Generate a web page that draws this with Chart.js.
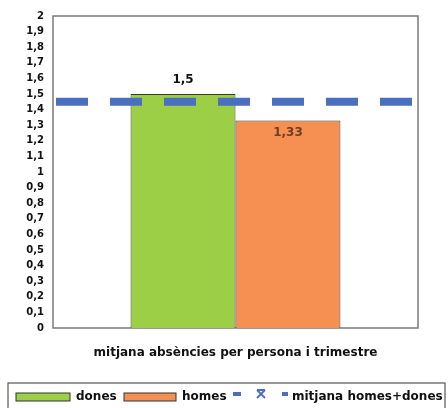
<!DOCTYPE html>
<html>
<head>
<meta charset="utf-8">
<script src="https://cdn.jsdelivr.net/npm/chart.js@4.4.1/dist/chart.umd.min.js"></script>
<style>
  html, body { margin: 0; padding: 0; background: #fff; }
  #wrap { width: 448px; height: 408px; position: relative; }
</style>
</head>
<body>
<div id="wrap"><canvas id="c" width="448" height="408"></canvas></div>
<script>
// Absence averages per person and quarter
const categories = ['mitjana absències per persona i trimestre'];
const dones = [1.5];
const homes = [1.33];
const mitjana = 1.45; // average line, men + women
const seriesNames = ['dones', 'homes', 'mitjana homes+dones'];
const yTicks = [0, 0.1, 0.2, 0.3, 0.4, 0.5, 0.6, 0.7, 0.8, 0.9, 1, 1.1, 1.2, 1.3, 1.4, 1.5, 1.6, 1.7, 1.8, 1.9, 2];

const FONT = '"DejaVu Sans", sans-serif';
const GREEN = '#9ccf45';
const ORANGE = '#f68f52';
const BLUE = '#4a6fc0';

// decimal comma, no trailing zeros
const fmt = v => String(Math.round(v * 100) / 100).replace('.', ',');

// one category slot spans the whole x range [0, 1]; bars sit at the slot centre
const slotCentre = i => (i + 0.5) / categories.length;
const barPoints = arr => arr.map((v, i) => ({ x: slotCentre(i), y: v }));

// frame around the plot area
const framePlugin = {
  id: 'frame',
  beforeDatasetsDraw(chart) {
    const a = chart.chartArea, ctx = chart.ctx;
    ctx.save();
    ctx.strokeStyle = '#7a7a7a';
    ctx.lineWidth = 1.5;
    ctx.strokeRect(a.left, a.top, a.right - a.left, a.bottom - a.top);
    ctx.restore();
  }
};

// value labels on the bars
const valueLabels = {
  id: 'valueLabels',
  afterDatasetsDraw(chart) {
    const ctx = chart.ctx;
    ctx.save();
    ctx.font = 'bold 12px ' + FONT;
    ctx.textAlign = 'center';
    ctx.textBaseline = 'middle';
    [0, 1].forEach(di => {
      const meta = chart.getDatasetMeta(di);
      meta.data.forEach((bar, i) => {
        const v = chart.data.datasets[di].data[i].y;
        if (di === 0) {
          ctx.fillStyle = '#111';
          ctx.fillText(fmt(v), bar.x, bar.y - 14);
        } else {
          ctx.fillStyle = '#6a4128';
          ctx.fillText(fmt(v), bar.x, bar.y + 12);
        }
      });
    });
    ctx.restore();
  }
};

// boxed legend along the bottom edge
const boxLegend = {
  id: 'boxLegend',
  afterDraw(chart) {
    const ctx = chart.ctx;
    const ds = chart.data.datasets;
    const top = 383, cy = 397;
    ctx.save();
    ctx.strokeStyle = '#555';
    ctx.lineWidth = 1.2;
    ctx.strokeRect(8, top, 437, 40);
    ctx.font = 'bold 12px ' + FONT;
    ctx.textBaseline = 'middle';
    ctx.textAlign = 'left';
    // bar swatches
    const sw = [[16, 54, 0], [124, 52, 1]];
    sw.forEach(([x, w, di]) => {
      ctx.fillStyle = ds[di].backgroundColor;
      ctx.strokeStyle = '#333';
      ctx.lineWidth = 1;
      ctx.fillRect(x, cy - 4, w, 8);
      ctx.strokeRect(x, cy - 4, w, 8);
      ctx.fillStyle = '#111';
      ctx.fillText(ds[di].label, x + w + 6, cy);
    });
    // line swatch: dash, marker, dash
    const lc = ds[2].borderColor;
    ctx.fillStyle = lc;
    ctx.fillRect(233, cy - 5, 8, 4);
    ctx.fillRect(282, cy - 5, 6, 4);
    ctx.strokeStyle = lc;
    ctx.lineWidth = 1.8;
    const mx = 261, my = cy - 3, r = 4;
    ctx.beginPath();
    ctx.moveTo(mx - r, my - r); ctx.lineTo(mx + r, my + r);
    ctx.moveTo(mx + r, my - r); ctx.lineTo(mx - r, my + r);
    ctx.moveTo(mx - r, my - r); ctx.lineTo(mx + r, my - r);
    ctx.stroke();
    ctx.fillStyle = '#111';
    ctx.fillText(ds[2].label, 292, cy);
    ctx.restore();
  }
};

new Chart(document.getElementById('c'), {
  type: 'bar',
  data: {
    datasets: [
      { type: 'bar', label: seriesNames[0], data: barPoints(dones), backgroundColor: GREEN, borderColor: '#3a3a2a', borderWidth: 1, order: 2 },
      { type: 'bar', label: seriesNames[1], data: barPoints(homes), backgroundColor: ORANGE, borderColor: '#3a3a2a', borderWidth: 1, order: 2 },
      { type: 'line', label: seriesNames[2], data: [{ x: 0.0082, y: mitjana }, { x: 0.9836, y: mitjana }],
        borderColor: BLUE, borderWidth: 8, borderDash: [32, 22], borderCapStyle: 'butt',
        pointRadius: 0, fill: false, order: 1 }
    ]
  },
  options: {
    responsive: false,
    animation: false,
    devicePixelRatio: 1,
    layout: { padding: { top: 16, right: 30, bottom: 43, left: 0 } },
    plugins: { legend: { display: false }, tooltip: { enabled: false } },
    datasets: { bar: { categoryPercentage: 0.575, barPercentage: 1 } },
    scales: {
      x: {
        type: 'linear',
        min: 0, max: 1,
        offset: false,
        afterBuildTicks(s) { s.ticks = categories.map((c, i) => ({ value: slotCentre(i) })); },
        grid: { display: false, drawTicks: false },
        border: { display: false },
        ticks: { display: false },
        title: {
          display: true, text: categories[0], color: '#111',
          padding: { top: 0, bottom: 5 },
          font: { family: FONT, size: 12, weight: 'bold' }
        },
        afterFit(s) { s.height = 37; }
      },
      y: {
        min: 0, max: 2,
        afterBuildTicks(s) { s.ticks = yTicks.map(v => ({ value: v })); },
        grid: { display: false, drawTicks: false },
        border: { display: false },
        ticks: { padding: 9, color: '#111', font: { family: FONT, size: 10, weight: 'bold' }, callback: v => fmt(v) },
        afterFit(s) { s.width = 53; }
      }
    }
  },
  plugins: [framePlugin, valueLabels, boxLegend]
});
</script>
</body>
</html>
